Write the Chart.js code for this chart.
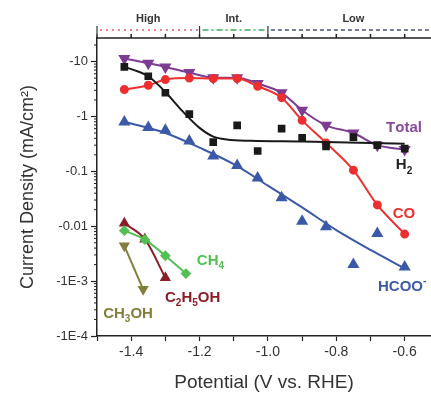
<!DOCTYPE html>
<html>
<head>
<meta charset="utf-8">
<script src="https://cdn.jsdelivr.net/npm/chart.js@4.4.1/dist/chart.umd.min.js"></script>
<style>
  html, body { margin: 0; padding: 0; background: #fff; overflow: hidden; }
  #wrap { width: 438px; height: 394px; }
</style>
</head>
<body>
<div id="wrap"><canvas id="chart"></canvas></div>
<script>
// potentials (V vs. RHE) and current densities |j| (mA/cm2)
const potentials = [-1.42, -1.35, -1.30, -1.23, -1.16, -1.09, -1.03, -0.96, -0.90, -0.83, -0.75, -0.68, -0.60];
const totalJ = [11.4, 9.3, 8.0, 6.3, 5.1, 5.1, 4.0, 2.7, 1.3, 0.69, 0.50, 0.30, 0.25];
const coJ    = [3.1, 3.7, 4.7, 5.0, 4.9, 4.9, 3.55, 2.2, 0.85, 0.33, 0.105, 0.0245, 0.0072];
const h2J    = [8.0, 5.4, 2.7, 1.1, 0.34, 0.69, 0.235, 0.60, 0.41, 0.285, 0.42, 0.30, 0.26];
const hcooJ  = [0.79, 0.63, 0.56, 0.356, 0.19, 0.128, 0.076, 0.033, 0.0123, 0.0098, 0.0020, 0.0074, 0.0018];

// fit curves
const h2FitV = [-1.42, -1.38, -1.35, -1.30, -1.25, -1.20, -1.16, -1.12, -1.05, -0.9, -0.8, -0.7, -0.6];
const h2FitJ = [8.0, 6.6, 5.4, 2.8, 1.25, 0.62, 0.43, 0.38, 0.36, 0.35, 0.34, 0.33, 0.32];
const hcooFitV = [-1.42, -1.30, -1.20, -1.10, -1.00, -0.90, -0.80, -0.70, -0.60];
const hcooFitJ = [0.80, 0.50, 0.27, 0.135, 0.055, 0.022, 0.0085, 0.0037, 0.0017];

// minor products
const ch4V = [-1.42, -1.36, -1.30, -1.24];
const ch4J = [0.0083, 0.0057, 0.0029, 0.00137];
const c2h5ohV = [-1.42, -1.36, -1.30];
const c2h5ohJ = [0.0113, 0.0058, 0.00115];
const ch3ohV = [-1.42, -1.365];
const ch3ohJ = [0.0044, 0.00071];

// axes
const xTicks = [-1.5, -1.4, -1.3, -1.2, -1.1, -1.0, -0.9, -0.8, -0.7, -0.6];
const xLabels = {'-1.4': '-1.4', '-1.2': '-1.2', '-1.0': '-1.0', '-0.8': '-0.8', '-0.6': '-0.6'};
const yTicks = [1e-4, 1e-3, 1e-2, 1e-1, 1, 10];
const yLabels = ['-1E-4', '-1E-3', '-0.01', '-0.1', '-1', '-10'];

// potential regions on top
const regionNames = ['High', 'Int.', 'Low'];
const regionBounds = [-1.5, -1.2, -1.0, -0.5];

// series labels: [text, potential, |j|, colour, align]
const seriesLabels = [
  ['Total', -0.602, 0.61, '#8a4a9c', 'center'],
  ['H_2', -0.602, 0.13, '#222222', 'center'],
  ['CO', -0.602, 0.017, '#ee2f2f', 'center'],
  ['HCOO^-', -0.678, 0.00079, '#3b59a8', 'left'],
  ['CH_4', -1.208, 0.00234, '#52c152', 'left'],
  ['C_2H_5OH', -1.301, 0.000495, '#8c1c26', 'left'],
  ['CH_3OH', -1.482, 0.000252, '#817f3c', 'left']
];

const pts = (xs, ys) => xs.map((x, i) => ({x: x, y: ys[i]}));

function drawRich(ctx, str, x, y, align, size) {
  const parts = [];
  for (let i = 0; i < str.length; i++) {
    const c = str[i];
    if (c === '_' || c === '^') { parts.push({t: str[i + 1], k: c}); i++; }
    else parts.push({t: c, k: ''});
  }
  const big = 'bold ' + size + 'px "Liberation Sans", Arial, sans-serif';
  const small = 'bold ' + Math.round(size * 0.65) + 'px "Liberation Sans", Arial, sans-serif';
  let w = 0;
  parts.forEach(p => { ctx.font = p.k ? small : big; p.w = ctx.measureText(p.t).width; w += p.w; });
  let cx = align === 'center' ? x - w / 2 : x;
  ctx.textBaseline = 'middle';
  ctx.textAlign = 'left';
  parts.forEach(p => {
    ctx.font = p.k ? small : big;
    let dy = 0;
    if (p.k === '_') dy = size * 0.38;
    if (p.k === '^') dy = -size * 0.35;
    ctx.fillText(p.t, cx, y + dy);
    cx += p.w;
  });
}

const extras = {
  id: 'extras',
  afterDraw(chart) {
    const ctx = chart.ctx;
    const xs = chart.scales.x, ys = chart.scales.y;
    const area = chart.chartArea;
    ctx.save();
    ctx.strokeStyle = '#222';
    ctx.lineWidth = 1.5;
    // top frame and ticks
    ctx.beginPath();
    ctx.moveTo(area.left, area.top);
    ctx.lineTo(area.right, area.top);
    xTicks.forEach(v => {
      const px = xs.getPixelForValue(v);
      ctx.moveTo(px, area.top);
      ctx.lineTo(px, area.top - 4);
    });
    ctx.stroke();
    // minor y ticks
    ctx.lineWidth = 1;
    ctx.beginPath();
    for (let n = -4; n <= 1; n++) {
      for (let k = 2; k <= 9; k++) {
        const v = k * Math.pow(10, n);
        if (v > ys.max) break;
        const py = ys.getPixelForValue(v);
        ctx.moveTo(area.left, py);
        ctx.lineTo(area.left - 3, py);
      }
    }
    ctx.stroke();
    // region bar
    const barY = area.top - 8;
    const styles = [
      {c: '#e8576d', d: [2, 4]},
      {c: '#3cae5a', d: [6, 3, 2, 3]},
      {c: '#4b4f7a', d: [4, 3]}
    ];
    regionNames.forEach((name, i) => {
      const a = xs.getPixelForValue(regionBounds[i]);
      const b = xs.getPixelForValue(regionBounds[i + 1]);
      ctx.strokeStyle = styles[i].c;
      ctx.lineWidth = 1.6;
      ctx.setLineDash(styles[i].d);
      ctx.beginPath();
      ctx.moveTo(a + 3, barY);
      ctx.lineTo(b, barY);
      ctx.stroke();
      ctx.setLineDash([]);
      ctx.strokeStyle = '#333';
      ctx.lineWidth = 1.2;
      ctx.beginPath();
      ctx.moveTo(a, barY - 4);
      ctx.lineTo(a, barY + 4);
      ctx.stroke();
      ctx.fillStyle = '#333';
      ctx.font = 'bold 11px "Liberation Sans", Arial, sans-serif';
      ctx.textAlign = 'center';
      ctx.textBaseline = 'middle';
      const mid = i < 2 ? (a + b) / 2 : xs.getPixelForValue(-0.75);
      ctx.fillText(name, mid, barY - 11);
    });
    // series labels
    seriesLabels.forEach(l => {
      ctx.fillStyle = l[3];
      drawRich(ctx, l[0], xs.getPixelForValue(l[1]), ys.getPixelForValue(l[2]), l[4], 15);
    });
    ctx.restore();
  }
};

const lineDs = (label, data, color, style, extra) => Object.assign({
  label: label,
  data: data,
  borderColor: color,
  backgroundColor: color,
  borderWidth: 2,
  pointStyle: style,
  pointRadius: 4,
  cubicInterpolationMode: 'monotone',
  tension: 0.4
}, extra || {});

new Chart(document.getElementById('chart'), {
  type: 'line',
  data: {
    datasets: [
      lineDs('HCOO- fit', pts(hcooFitV, hcooFitJ), '#3b59a8', false, {pointRadius: 0}),
      lineDs('HCOO-', pts(potentials, hcooJ), '#3b59a8', 'triangle', {showLine: false, pointRadius: 5}),
      lineDs('H2 fit', pts(h2FitV, h2FitJ), '#1a1a1a', false, {pointRadius: 0}),
      lineDs('H2', pts(potentials, h2J), '#1a1a1a', 'rect', {showLine: false, pointRadius: 4}),
      lineDs('CO', pts(potentials, coJ), '#ee2f2f', 'circle', {pointRadius: 3.5}),
      lineDs('Total', pts(potentials, totalJ), '#7d3c92', 'triangle', {pointRadius: 5, rotation: 180}),
      lineDs('CH4', pts(ch4V, ch4J), '#52c152', 'rectRot', {pointRadius: 4, tension: 0}),
      lineDs('C2H5OH', pts(c2h5ohV, c2h5ohJ), '#8c1c26', 'triangle', {pointRadius: 4.5}),
      lineDs('CH3OH', pts(ch3ohV, ch3ohJ), '#817f3c', 'triangle', {pointRadius: 4.5, rotation: 180, tension: 0})
    ]
  },
  options: {
    responsive: true,
    maintainAspectRatio: false,
    animation: false,
    layout: {padding: {top: 38, left: 0, right: 0, bottom: 0}},
    plugins: {legend: {display: false}, tooltip: {enabled: false}},
    scales: {
      x: {
        type: 'linear',
        min: -1.5,
        max: -0.523,
        afterBuildTicks: s => { s.ticks = xTicks.map(v => ({value: v})); },
        afterFit: s => { s.height = 58; },
        ticks: {
          autoSkip: false,
          maxRotation: 0,
          color: '#333',
          font: {family: '"Liberation Sans", Arial, sans-serif', size: 14},
          callback: v => xLabels[v.toFixed(1)] || ''
        },
        grid: {drawOnChartArea: false, tickLength: 5, color: '#222', tickWidth: 1.2},
        border: {color: '#222', width: 1.5},
        title: {
          display: true,
          text: 'Potential (V vs. RHE)',
          color: '#333',
          font: {family: '"Liberation Sans", Arial, sans-serif', size: 19},
          padding: {top: 0, bottom: 0}
        }
      },
      y: {
        type: 'logarithmic',
        min: 1e-4,
        max: 26.9,
        afterBuildTicks: s => { s.ticks = yTicks.map(v => ({value: v})); },
        afterFit: s => { s.width = 97; },
        ticks: {
          color: '#333',
          font: {family: '"Liberation Sans", Arial, sans-serif', size: 13},
          callback: v => {
            const i = yTicks.findIndex(t => Math.abs(Math.log10(t) - Math.log10(v)) < 1e-6);
            return i >= 0 ? yLabels[i] : '';
          }
        },
        grid: {drawOnChartArea: false, tickLength: 6, color: '#222', tickWidth: 1.2},
        border: {color: '#222', width: 1.5},
        title: {
          display: true,
          text: 'Current Density (mA/cm²)',
          color: '#333',
          font: {family: '"Liberation Sans", Arial, sans-serif', size: 18},
          padding: {top: 17, bottom: 0}
        }
      }
    }
  },
  plugins: [extras]
});
</script>
</body>
</html>
